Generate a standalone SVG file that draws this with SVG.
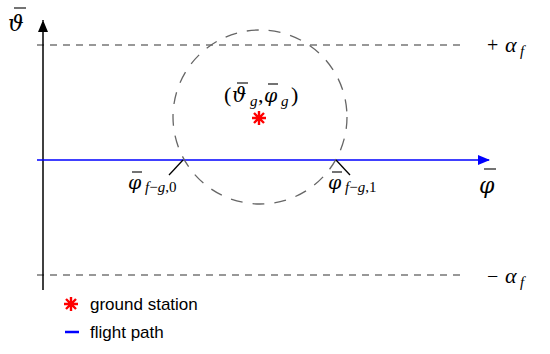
<svg xmlns="http://www.w3.org/2000/svg" width="550" height="354" viewBox="0 0 550 354">
<style>
.m{font-family:"Liberation Serif","DejaVu Serif",serif;font-style:italic;fill:#000}
.g{font-family:"DejaVu Serif","Liberation Serif",serif;font-style:italic;fill:#000}
.r{font-family:"Liberation Serif","DejaVu Serif",serif;font-style:normal;fill:#000}
.leg{font-family:"Liberation Sans",Arial,sans-serif;font-size:17px;fill:#000}
.bound{stroke:#777;stroke-width:1.3;stroke-dasharray:7 6;fill:none}
.axis{stroke:#000;stroke-width:1.5;fill:none}
.tick{stroke:#000;stroke-width:1.3}
.bar{stroke:#000;stroke-width:1.1}
</style>
<defs>
<marker id="ahk" markerWidth="10" markerHeight="12" refX="12" refY="5" orient="auto" markerUnits="userSpaceOnUse"><path d="M0,0 L12,5 L0,10 Z" fill="#000"/></marker>
<marker id="ahb" markerWidth="12" markerHeight="10" refX="11" refY="5" orient="auto" markerUnits="userSpaceOnUse"><path d="M0,0 L12,5 L0,10 Z" fill="#0000ff"/></marker>
<g id="star-shape"><path d="M-7,0 H7 M0,-7 V7 M-5,-5 L5,5 M-5,5 L5,-5" stroke="#ff0000" stroke-width="2.4"/></g>
</defs>
<g id="connectors">
<line class="bound" x1="37" y1="45" x2="462" y2="45"/>
<line class="bound" x1="37" y1="275" x2="462" y2="275"/>
<line class="axis" x1="43" y1="290" x2="43" y2="20" marker-end="url(#ahk)"/>
<line x1="37" y1="160" x2="489" y2="160" stroke="#0000ff" stroke-width="1.6" marker-end="url(#ahb)"/>
</g>
<g id="circle">
<circle cx="260" cy="117" r="87" fill="none" stroke="#666" stroke-width="1.3" stroke-dasharray="12 10"/>
</g>
<g id="ground-station">
<use href="#star-shape" x="259" y="118"/>
<text class="r" x="224" y="102" font-size="22">(</text>
<text class="g" x="232" y="102" font-size="20">ϑ</text>
<line class="bar" x1="237" y1="83" x2="248" y2="83"/>
<text class="m" x="250" y="106" font-size="15">g</text>
<text class="r" x="258" y="102" font-size="22">,</text>
<text class="g" x="264" y="102" font-size="19">φ</text>
<line class="bar" x1="268" y1="84" x2="278" y2="84"/>
<text class="m" x="281" y="106" font-size="15">g</text>
<text class="r" x="291" y="102" font-size="22">)</text>
</g>
<g id="intersect-0">
<line class="tick" x1="183" y1="160" x2="169" y2="175"/>
<text class="g" x="128" y="189" font-size="19">φ</text>
<line class="bar" x1="132" y1="172" x2="142" y2="172"/>
<text class="m" x="145" y="192" font-size="15">f<tspan class="r">−</tspan>g<tspan class="r">,0</tspan></text>
</g>
<g id="intersect-1">
<line class="tick" x1="336" y1="160" x2="350" y2="175"/>
<text class="g" x="328" y="189" font-size="19">φ</text>
<line class="bar" x1="332" y1="172" x2="342" y2="172"/>
<text class="m" x="345" y="192" font-size="15">f<tspan class="r">−</tspan>g<tspan class="r">,1</tspan></text>
</g>
<g id="labels">
<text class="g" x="479" y="193" font-size="22">φ</text>
<line class="bar" x1="484" y1="169" x2="496" y2="169"/>
<text class="g" x="8" y="31" font-size="22">ϑ</text>
<line class="bar" x1="14" y1="8" x2="26" y2="8"/>
<text class="r" x="487" y="52" font-size="20">+</text>
<text class="m" x="505" y="52" font-size="22">α</text>
<text class="m" x="520" y="56" font-size="15">f</text>
<text class="r" x="487" y="283" font-size="20">−</text>
<text class="m" x="505" y="283" font-size="22">α</text>
<text class="m" x="520" y="287" font-size="15">f</text>
</g>
<g id="legend">
<use href="#star-shape" x="71" y="304"/>
<text class="leg" x="90" y="310">ground station</text>
<line x1="65" y1="332" x2="79" y2="332" stroke="#0000ff" stroke-width="2.5"/>
<text class="leg" x="90" y="338">flight path</text>
</g>
</svg>
